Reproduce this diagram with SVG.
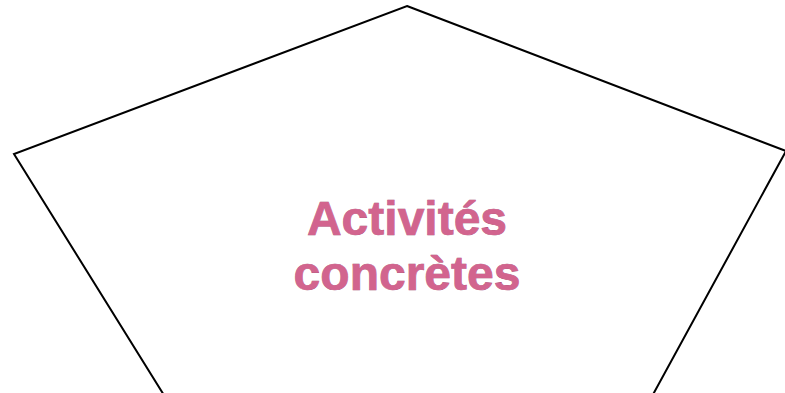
<svg xmlns="http://www.w3.org/2000/svg" width="785" height="393" viewBox="0 0 785 393">
<defs>
<style>
.shape{fill:#ffffff;stroke:#000000;stroke-width:2;stroke-linejoin:miter}
.lbl{font-family:"Liberation Sans",Arial,sans-serif;font-weight:bold;font-size:48px;text-anchor:middle;fill:#d2648e;stroke:#a23a68;stroke-width:0.6;paint-order:stroke}
</style>
</defs>
<rect width="785" height="393" fill="#ffffff"/>
<g id="pentagon">
<polygon class="shape" points="407,6 786,151 650,400 167,400 14,154"/>
<text class="lbl" x="407" y="235">Activités</text>
<text class="lbl" x="407" y="290">concrètes</text>
</g>
</svg>
